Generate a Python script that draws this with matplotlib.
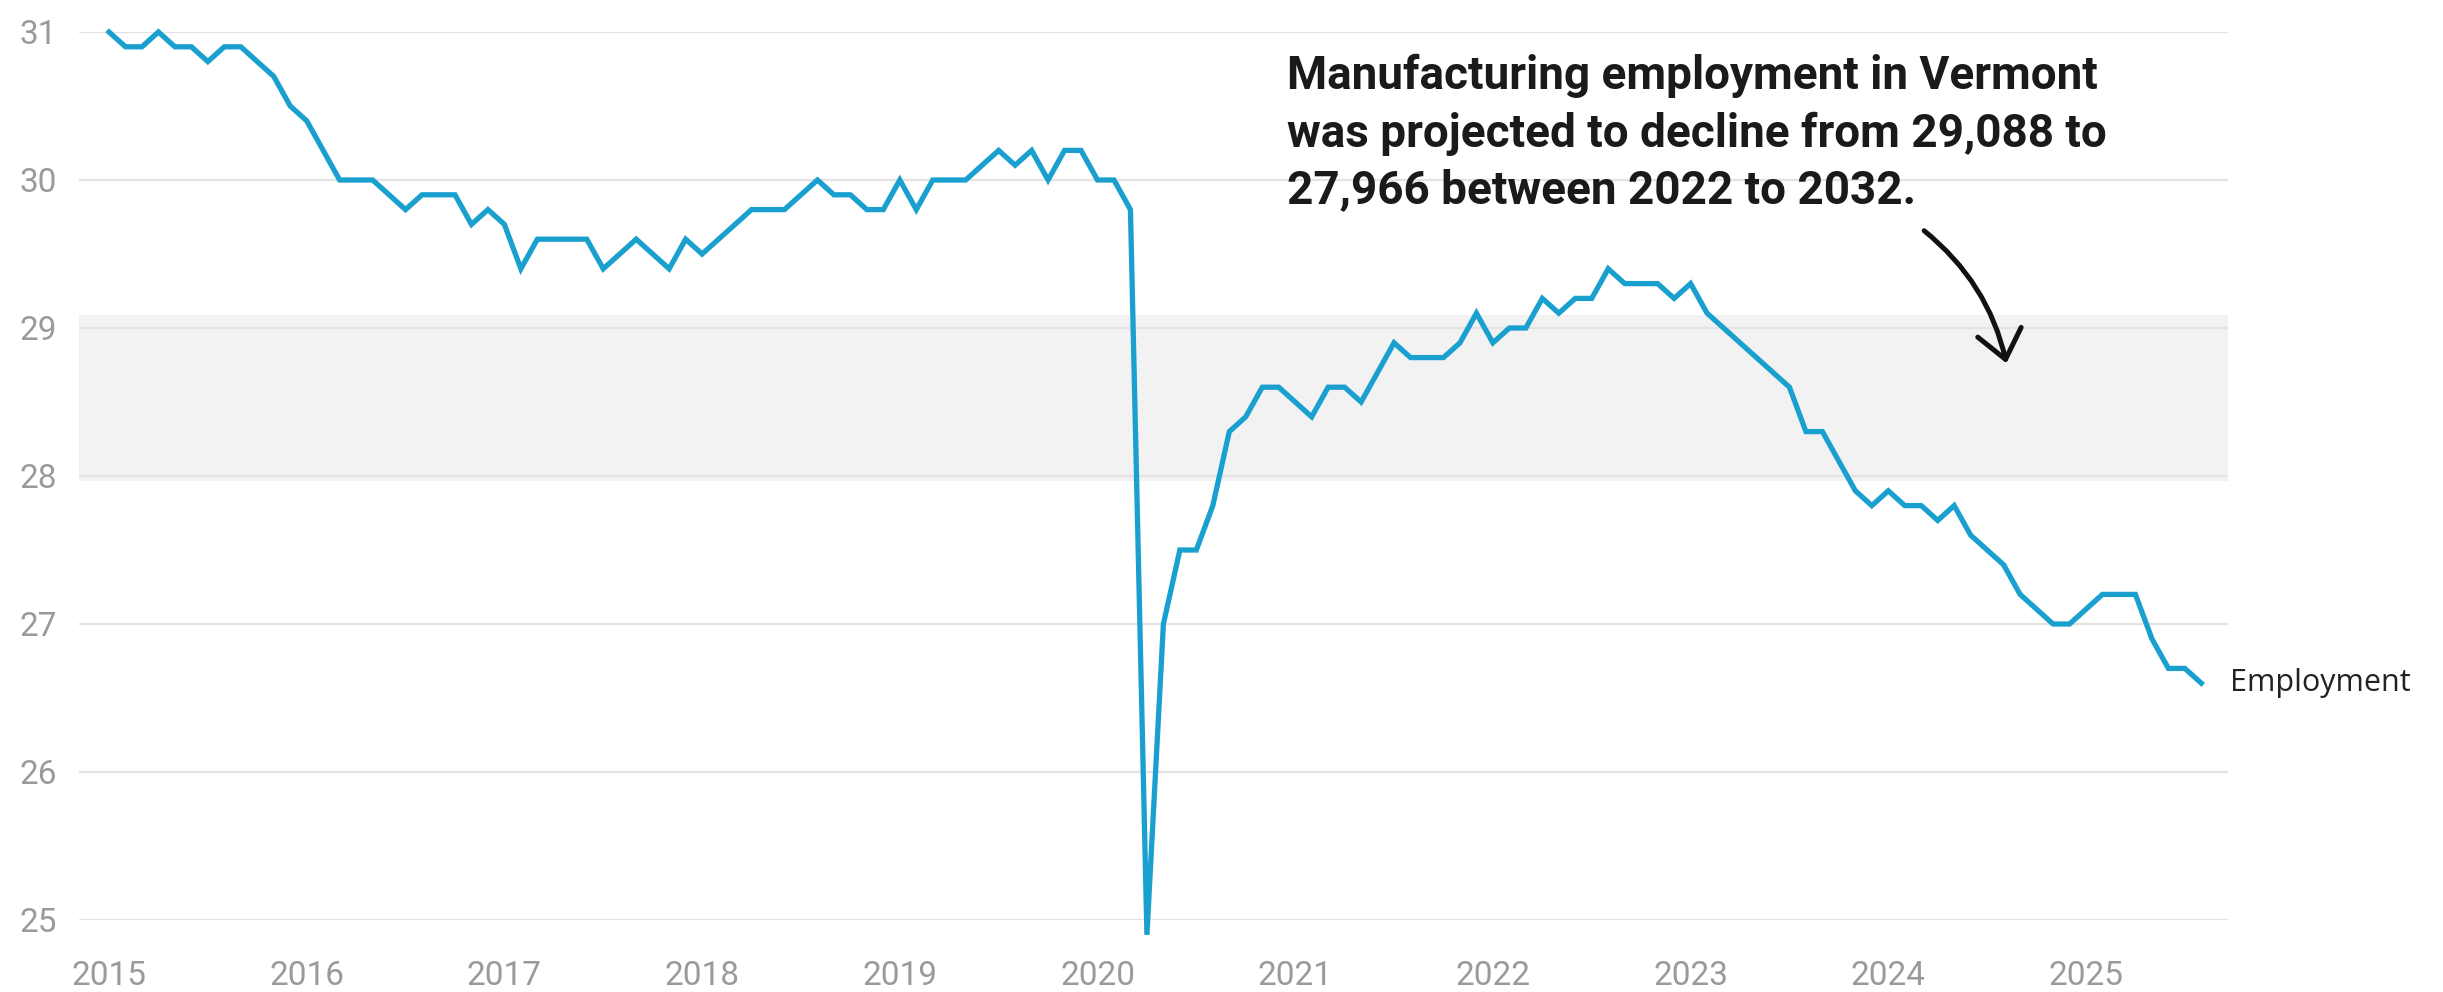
import matplotlib
matplotlib.use('Agg')
import matplotlib.pyplot as plt
from matplotlib.patches import FancyArrowPatch

# Monthly manufacturing employment in Vermont (thousands), Jan 2015 - Aug 2025
employment = [
    31.0, 30.9, 30.9, 31.0, 30.9, 30.9, 30.8, 30.9, 30.9, 30.8, 30.7, 30.5,   # 2015
    30.4, 30.2, 30.0, 30.0, 30.0, 29.9, 29.8, 29.9, 29.9, 29.9, 29.7, 29.8,   # 2016
    29.7, 29.4, 29.6, 29.6, 29.6, 29.6, 29.4, 29.5, 29.6, 29.5, 29.4, 29.6,   # 2017
    29.5, 29.6, 29.7, 29.8, 29.8, 29.8, 29.9, 30.0, 29.9, 29.9, 29.8, 29.8,   # 2018
    30.0, 29.8, 30.0, 30.0, 30.0, 30.1, 30.2, 30.1, 30.2, 30.0, 30.2, 30.2,   # 2019
    30.0, 30.0, 29.8, 24.9, 27.0, 27.5, 27.5, 27.8, 28.3, 28.4, 28.6, 28.6,   # 2020
    28.5, 28.4, 28.6, 28.6, 28.5, 28.7, 28.9, 28.8, 28.8, 28.8, 28.9, 29.1,   # 2021
    28.9, 29.0, 29.0, 29.2, 29.1, 29.2, 29.2, 29.4, 29.3, 29.3, 29.3, 29.2,   # 2022
    29.3, 29.1, 29.0, 28.9, 28.8, 28.7, 28.6, 28.3, 28.3, 28.1, 27.9, 27.8,   # 2023
    27.9, 27.8, 27.8, 27.7, 27.8, 27.6, 27.5, 27.4, 27.2, 27.1, 27.0, 27.0,   # 2024
    27.1, 27.2, 27.2, 27.2, 26.9, 26.7, 26.7, 26.6,                           # 2025
]
year_labels = ['2015', '2016', '2017', '2018', '2019', '2020',
               '2021', '2022', '2023', '2024', '2025']
y_ticks = [25, 26, 27, 28, 29, 30, 31]
projection_low = 27.966
projection_high = 29.088
series_name = 'Employment'
note = ('Manufacturing employment in Vermont\n'
        'was projected to decline from 29,088 to\n'
        '27,966 between 2022 to 2032.')

W, H = 2443, 992
fig = plt.figure(figsize=(W / 100, H / 100), dpi=100)
left, right, top, bottom = 79, 2228, 32, 920
ax = fig.add_axes([left / W, 1 - bottom / H, (right - left) / W, (bottom - top) / H])

months = list(range(len(employment)))
month_px = (2086 - 109) / 120.0
ax.set_xlim(-(109 - left) / month_px, (right - 109) / month_px)
ax.set_ylim(y_ticks[0], y_ticks[-1])

ax.axhspan(projection_low, projection_high, color='#f2f2f2', zorder=0, lw=0)
for yv in y_ticks:
    ax.axhline(yv, color='#e3e3e3', lw=1.6, zorder=1)

ax.plot(months, employment, color='#1aa0cf', lw=3.8, clip_on=False, zorder=3,
        solid_joinstyle='miter')

for s in ax.spines.values():
    s.set_visible(False)
ax.set_xticks([12 * i for i in range(len(year_labels))])
ax.set_xticklabels(year_labels)
ax.set_yticks(y_ticks)
ax.set_yticklabels([str(v) for v in y_ticks])
ax.tick_params(axis='both', length=0, labelsize=24, labelcolor='#9a9a9a')
ax.tick_params(axis='x', pad=29)
ax.tick_params(axis='y', pad=16)
for lab in ax.get_xticklabels() + ax.get_yticklabels():
    lab.set_fontfamily('Roboto')

ax.annotate(series_name, xy=(months[-1], employment[-1]), xytext=(21, 0),
            textcoords='offset points', va='center', ha='left',
            fontsize=22, color='#222222', family='Open Sans', annotation_clip=False)

fig.text(1287 / W, 1 - 54 / H, note, fontsize=33, fontweight='bold',
         family='Roboto', color='#1a1a1a', va='top', ha='left', linespacing=1.37)

# curved arrow
def to_data(px, py):
    return ((px - 109) / month_px,
            y_ticks[-1] - (py - top) / ((bottom - top) / (y_ticks[-1] - y_ticks[0])))

arrow = FancyArrowPatch(to_data(1922, 229), to_data(2007, 366),
                        connectionstyle='arc3,rad=-0.18',
                        arrowstyle='->,head_length=0.5,head_width=0.4',
                        mutation_scale=40, lw=3.6, color='#111111',
                        clip_on=False, zorder=4)
ax.add_patch(arrow)

fig.savefig('out.png', dpi=100, facecolor='white')
